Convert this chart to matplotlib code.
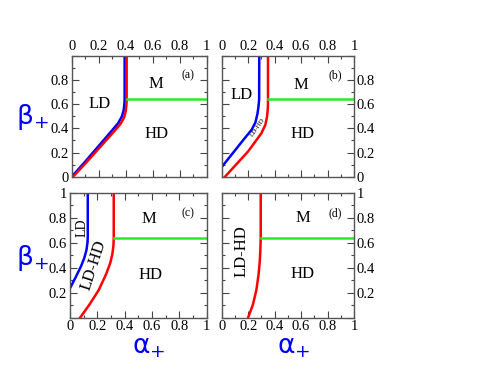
import numpy as np
import matplotlib
matplotlib.use("Agg")
import matplotlib.pyplot as plt
from matplotlib.ticker import MultipleLocator, FuncFormatter

plt.rcParams['font.family'] = ['Liberation Serif', 'DejaVu Serif']
plt.rcParams['mathtext.fontset'] = 'custom'
plt.rcParams['mathtext.rm'] = 'DejaVu Sans'
plt.rcParams['mathtext.it'] = 'DejaVu Sans'

# phase boundaries (alpha+, beta+)
a_blue_x = [0.0, 0.10, 0.20, 0.30, 0.345, 0.372, 0.385, 0.390, 0.392, 0.392]
a_blue_y = [0.0, 0.125, 0.255, 0.385, 0.445, 0.50, 0.55, 0.60, 0.64, 1.0]
a_red_x = [0.01, 0.11, 0.21, 0.31, 0.36, 0.388, 0.400, 0.405, 0.407, 0.407]
a_red_y = [0.0, 0.12, 0.245, 0.37, 0.435, 0.49, 0.54, 0.59, 0.64, 1.0]

b_blue_x = [0.0, 0.08, 0.16, 0.227, 0.255, 0.270, 0.278, 0.283, 0.284]
b_blue_y = [0.08, 0.19, 0.30, 0.39, 0.45, 0.52, 0.58, 0.64, 1.0]
b_red_x = [0.025, 0.10, 0.20, 0.30, 0.330, 0.343, 0.349, 0.350, 0.350]
b_red_y = [0.0, 0.09, 0.21, 0.36, 0.43, 0.50, 0.57, 0.64, 1.0]

c_blue_x = [0.0, 0.04, 0.08, 0.105, 0.120, 0.128, 0.130, 0.130]
c_blue_y = [0.235, 0.32, 0.41, 0.48, 0.54, 0.60, 0.65, 1.0]
c_red_x = [0.075, 0.14, 0.21, 0.265, 0.295, 0.310, 0.318, 0.320, 0.320]
c_red_y = [0.0, 0.10, 0.22, 0.35, 0.44, 0.51, 0.58, 0.64, 1.0]

d_red_x = [0.20, 0.235, 0.262, 0.278, 0.287, 0.292, 0.295, 0.295]
d_red_y = [0.0, 0.10, 0.22, 0.34, 0.44, 0.54, 0.64, 1.0]

green_y = 0.64
green_x0 = [0.407, 0.350, 0.320, 0.295]

panel_tags = ['(a)', '(b)', '(c)', '(d)']

W, H = 484, 374
fig = plt.figure(figsize=(W / 100, H / 100), dpi=100)


def box(l, r, t, b):
    return [l / W, 1 - b / H, (r - l) / W, (b - t) / H]


ax_a = fig.add_axes(box(71.7, 206.7, 56, 176.7))
ax_b = fig.add_axes(box(221.7, 354, 56, 176.7))
ax_c = fig.add_axes(box(70, 206.7, 193, 317.5))
ax_d = fig.add_axes(box(221.7, 354, 193, 317.5))


def fmt(v, pos):
    if abs(v - round(v)) < 1e-9:
        return '%d' % round(v)
    return '%.1f' % v


def style(ax, top, right, hide):
    ax.set_xlim(0, 1)
    ax.set_ylim(0, 1)
    ax.xaxis.set_major_locator(MultipleLocator(0.2))
    ax.yaxis.set_major_locator(MultipleLocator(0.2))
    ax.xaxis.set_minor_locator(MultipleLocator(0.1))
    ax.yaxis.set_minor_locator(MultipleLocator(0.1))
    ax.xaxis.set_major_formatter(FuncFormatter(fmt))
    ax.yaxis.set_major_formatter(
        FuncFormatter(lambda v, p: '' if abs(v - hide) < 1e-9 else fmt(v, p)))
    ax.tick_params(which='both', direction='in', top=True, right=True,
                   labeltop=top, labelbottom=not top,
                   labelright=right, labelleft=not right,
                   labelsize=10.5, pad=2, color='#444444')
    ax.tick_params(which='major', length=5, width=0.8)
    ax.tick_params(which='minor', length=2.5, width=0.8)
    for s in ax.spines.values():
        s.set_linewidth(1.0)
        s.set_color('#555555')


style(ax_a, True, False, 1.0)
style(ax_b, True, True, 1.0)
style(ax_c, False, False, 0.0)
style(ax_d, False, True, 0.0)

lw = 1.8
ax_a.plot(a_blue_x, a_blue_y, color='blue', lw=lw)
ax_a.plot(a_red_x, a_red_y, color='red', lw=lw)
ax_b.plot(b_blue_x, b_blue_y, color='blue', lw=lw)
ax_b.plot(b_red_x, b_red_y, color='red', lw=lw)
ax_c.plot(c_blue_x, c_blue_y, color='blue', lw=lw)
ax_c.plot(c_red_x, c_red_y, color='red', lw=lw)
ax_d.plot(d_red_x, d_red_y, color='red', lw=lw)

for ax, x0, tag in zip([ax_a, ax_b, ax_c, ax_d], green_x0, panel_tags):
    ax.plot([x0, 1], [green_y, green_y], color='#22ee22', lw=lw)
    ax.text(0.86, 0.84, tag, fontsize=8.5, ha='center', va='center')

big = 12
ax_a.text(0.21, 0.60, 'LD', fontsize=big, ha='center', va='center')
ax_a.text(0.62, 0.77, 'M', fontsize=big, ha='center', va='center')
ax_a.text(0.63, 0.35, 'HD', fontsize=big, ha='center', va='center')

ax_b.text(0.15, 0.68, 'LD', fontsize=big, ha='center', va='center')
ax_b.text(0.60, 0.76, 'M', fontsize=big, ha='center', va='center')
ax_b.text(0.61, 0.355, 'HD', fontsize=big, ha='center', va='center')
ax_b.text(0.272, 0.41, 'LD-HD', fontsize=5, ha='center', va='center', rotation=55)

ax_c.text(0.085, 0.72, 'LD', fontsize=10, ha='center', va='center', rotation=90)
ax_c.text(0.17, 0.42, 'LD-HD', fontsize=big, ha='center', va='center', rotation=72)
ax_c.text(0.58, 0.79, 'M', fontsize=big, ha='center', va='center')
ax_c.text(0.59, 0.34, 'HD', fontsize=big, ha='center', va='center')

ax_d.text(0.15, 0.53, 'LD-HD', fontsize=big, ha='center', va='center', rotation=90)
ax_d.text(0.61, 0.80, 'M', fontsize=big, ha='center', va='center')
ax_d.text(0.61, 0.35, 'HD', fontsize=big, ha='center', va='center')

for xy in [(32, 117), (32, 258)]:
    fig.text(xy[0] / W, 1 - xy[1] / H, r'$\mathrm{\beta}_{+}$', fontsize=19,
             color='blue', ha='center', va='center')
for xy in [(149, 348), (294, 348)]:
    fig.text(xy[0] / W, 1 - xy[1] / H, r'$\mathrm{\alpha}_{+}$', fontsize=19,
             color='blue', ha='center', va='center')

fig.savefig('out.png', dpi=100)
